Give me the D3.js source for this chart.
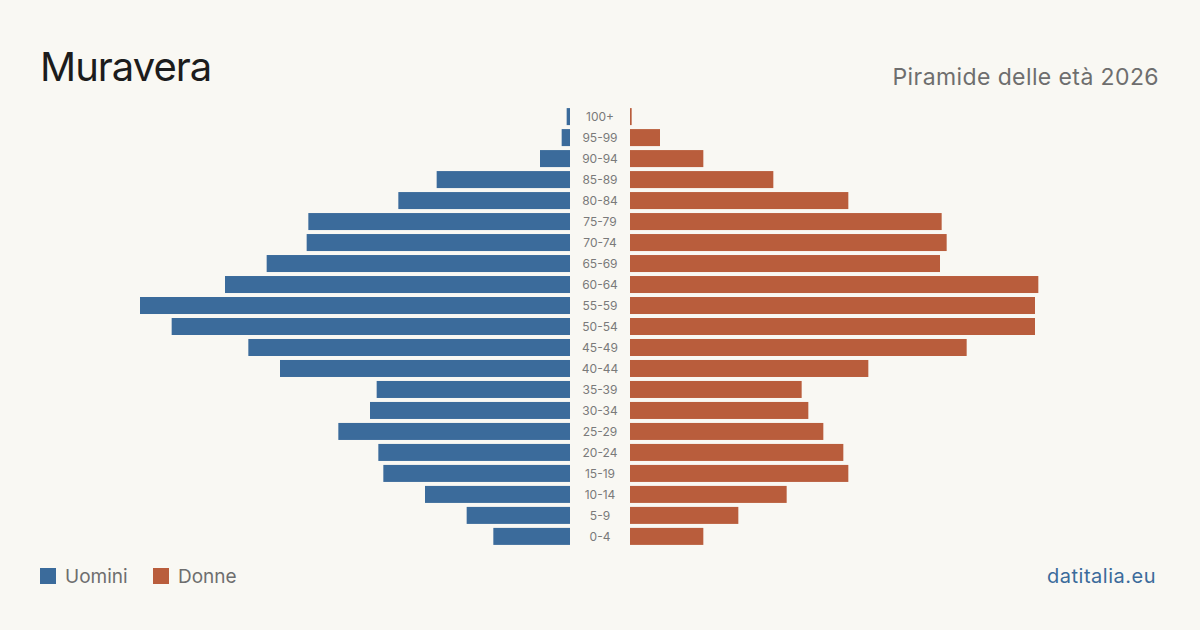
<!DOCTYPE html>
<html>
<head>
<meta charset="utf-8">
<script src="https://cdn.jsdelivr.net/npm/d3@7/dist/d3.min.js"></script>
<style>
  html, body { margin: 0; padding: 0; background: #f9f8f3; }
  svg { display: block; font-family: Inter, "Noto Sans", sans-serif; }
</style>
</head>
<body>
<svg id="chart" width="1200" height="630"></svg>
<script>
// fasce d'età, dall'alto verso il basso
const ages = ["100+", "95-99", "90-94", "85-89", "80-84", "75-79", "70-74", "65-69",
  "60-64", "55-59", "50-54", "45-49", "40-44", "35-39", "30-34", "25-29",
  "20-24", "15-19", "10-14", "5-9", "0-4"];
const uomini = [2, 5, 18, 80, 103, 157, 158, 182, 207, 258, 239, 193, 174, 116, 120, 139, 115, 112, 87, 62, 46];
const donne  = [1, 18, 44, 86, 131, 187, 190, 186, 245, 243, 243, 202, 143, 103, 107, 116, 128, 131, 94, 65, 44];

const W = 1200, H = 630;
const cx = 600, gap = 30;        // metà dello spazio centrale per le etichette
const maxW = 430;
const colM = "#3b6b9b", colF = "#b95d3c";

const svg = d3.select("#chart");
svg.append("rect").attr("width", W).attr("height", H).attr("fill", "#f9f8f3");

const y = d3.scaleBand().domain(ages).range([106, 547]).paddingInner(0.19).paddingOuter(0.1);
const x = d3.scaleLinear()
  .domain([0, d3.max(uomini.concat(donne))])
  .range([0, maxW]);

// barre uomini
svg.append("g").selectAll("rect")
  .data(ages)
  .join("rect")
    .attr("x", (d, i) => cx - gap - x(uomini[i]))
    .attr("y", d => y(d))
    .attr("width", (d, i) => x(uomini[i]))
    .attr("height", y.bandwidth())
    .attr("fill", colM);

// barre donne
svg.append("g").selectAll("rect")
  .data(ages)
  .join("rect")
    .attr("x", cx + gap)
    .attr("y", d => y(d))
    .attr("width", (d, i) => x(donne[i]))
    .attr("height", y.bandwidth())
    .attr("fill", colF);

// etichette età
svg.append("g").selectAll("text")
  .data(ages)
  .join("text")
    .attr("x", cx)
    .attr("y", d => y(d) + y.bandwidth() / 2)
    .attr("dy", "0.35em")
    .attr("text-anchor", "middle")
    .attr("font-size", 12)
    .attr("fill", "#7a7a7a")
    .text(d => d);

// titolo e sottotitolo
svg.append("text")
  .attr("x", 40).attr("y", 81)
  .attr("font-size", 40)
  .attr("letter-spacing", -1)
  .attr("fill", "#1c1c1c")
  .text("Muravera");

svg.append("text")
  .attr("x", 1159).attr("y", 85)
  .attr("text-anchor", "end")
  .attr("font-size", 23)
  .attr("letter-spacing", 0.4)
  .attr("fill", "#6e6e6e")
  .text("Piramide delle età 2026");

// legenda
const legend = [{ k: "Uomini", c: colM, x: 40 }, { k: "Donne", c: colF, x: 153 }];
const lg = svg.append("g").selectAll("g").data(legend).join("g")
  .attr("transform", d => `translate(${d.x},568)`);
lg.append("rect").attr("width", 16).attr("height", 16).attr("fill", d => d.c);
lg.append("text")
  .attr("x", 25).attr("y", 15)
  .attr("font-size", 19)
  .attr("fill", "#6e6e6e")
  .text(d => d.k);

svg.append("text")
  .attr("x", 1156).attr("y", 583)
  .attr("text-anchor", "end")
  .attr("font-size", 20)
  .attr("letter-spacing", 0.5)
  .attr("fill", "#3b6b9b")
  .text("datitalia.eu");
</script>
</body>
</html>
